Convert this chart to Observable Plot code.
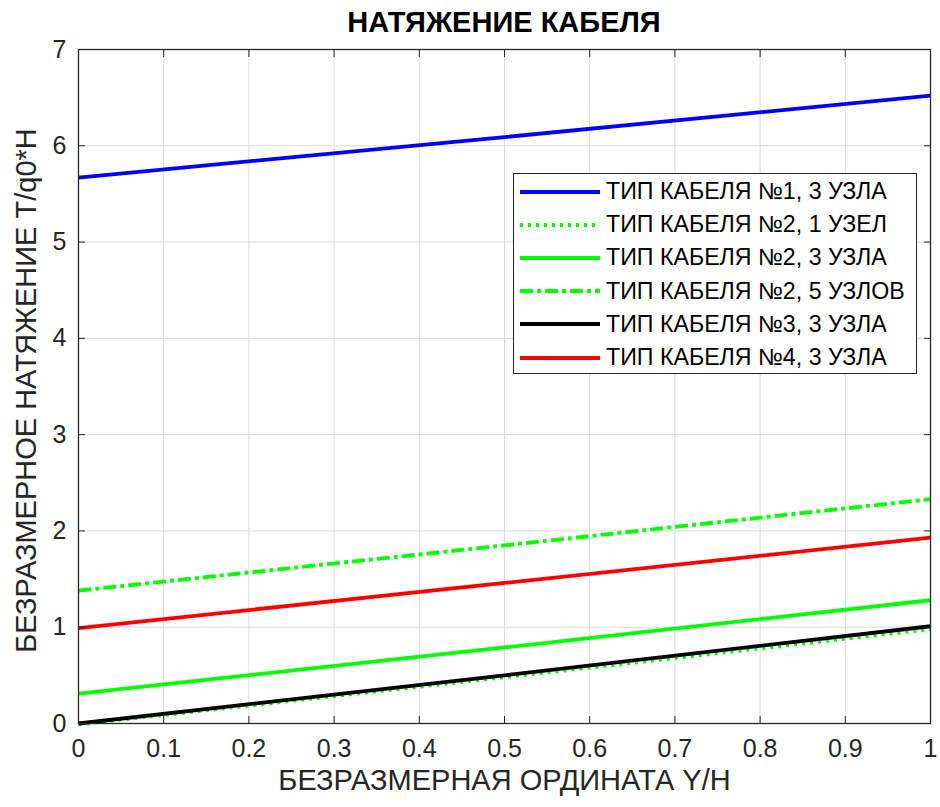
<!DOCTYPE html>
<html><head><meta charset="utf-8">
<script src="https://cdn.jsdelivr.net/npm/d3@7"></script>
<script src="https://cdn.jsdelivr.net/npm/@observablehq/plot@0.6"></script>
<style>
body{margin:0;background:#fff;font-family:"Liberation Sans",Arial,sans-serif;}
#wrap{position:relative;width:940px;height:807px;}
#title{position:absolute;left:0;top:0;width:940px;height:44px;line-height:44px;text-align:center;padding-left:68px;box-sizing:border-box;font-weight:bold;font-size:29px;color:#000;}
#chart{position:absolute;left:0;top:40px;}
#legend{position:absolute;left:513px;top:173px;width:404px;height:201px;border:1px solid #262626;background:#fff;box-sizing:border-box;}
.row{position:absolute;left:6px;height:33px;display:flex;align-items:center;font-size:23.2px;color:#000;white-space:nowrap;}
.row svg{margin-right:6px;}
</style></head>
<body>
<div id="wrap">
<div id="title">НАТЯЖЕНИЕ КАБЕЛЯ</div>
<div id="chart"></div>
<div id="legend"></div>
</div>
<script>
const titleText = "НАТЯЖЕНИЕ КАБЕЛЯ";
const xLabel = "БЕЗРАЗМЕРНАЯ ОРДИНАТА Y/H";
const yLabel = "БЕЗРАЗМЕРНОЕ НАТЯЖЕНИЕ T/q0*H";
const xTicks = [0,0.1,0.2,0.3,0.4,0.5,0.6,0.7,0.8,0.9,1];
const yTicks = [0,1,2,3,4,5,6,7];
const xVals = [0, 0.5, 1];
const seriesNames = ["ТИП КАБЕЛЯ №1, 3 УЗЛА","ТИП КАБЕЛЯ №2, 1 УЗЕЛ","ТИП КАБЕЛЯ №2, 3 УЗЛА","ТИП КАБЕЛЯ №2, 5 УЗЛОВ","ТИП КАБЕЛЯ №3, 3 УЗЛА","ТИП КАБЕЛЯ №4, 3 УЗЛА"];
const cable1_3 = [5.67, 6.09, 6.52];
const cable2_1 = [-0.01, 0.48, 0.98];
const cable2_3 = [0.31, 0.79, 1.28];
const cable2_5 = [1.38, 1.85, 2.33];
const cable3_3 = [0.0, 0.5, 1.01];
const cable4_3 = [0.99, 1.46, 1.93];
const seriesValues = [cable1_3, cable2_1, cable2_3, cable2_5, cable3_3, cable4_3];
const colors = ["#0000ff","#00ff00","#00ff00","#00ff00","#000000","#ff0000"];
const dashes = [null, "3,5", null, "13,4,4,4", null, null];
const drawOrder = [0,2,3,1,4,5];
document.getElementById("title").textContent = titleText;

const data = [];
seriesNames.forEach((n,i)=>xVals.forEach((x,j)=>data.push({series:n, idx:i, x, y:seriesValues[i][j]})));

const lineMarks = drawOrder.map(i => Plot.line(data.filter(d=>d.idx===i), {
  x:"x", y:"y", stroke: colors[i], strokeWidth: 3.8, strokeDasharray: dashes[i] || undefined, strokeLinecap: "butt"
}));

const ink = "#262626";
const blank = () => "";
const chart = Plot.plot({
  width: 940, height: 767,
  marginLeft: 78, marginRight: 10, marginTop: 9, marginBottom: 84,
  style: {fontFamily: '"Liberation Sans", Arial, sans-serif', fontSize: "25px", color: ink, background: "#fff", overflow: "visible"},
  x: {domain: [0,1], axis: null},
  y: {domain: [0,7], axis: null},
  marks: [
    Plot.gridX(xTicks, {stroke: "#dadada", strokeOpacity: 1}),
    Plot.gridY(yTicks, {stroke: "#dadada", strokeOpacity: 1}),
    ...lineMarks,
    Plot.text(xTicks, {x: d => d, frameAnchor: "bottom", dy: 33, fontSize: 25, fill: ink, text: d => String(d), textAnchor: "middle"}),
    Plot.text(yTicks, {y: d => d, frameAnchor: "left", dx: -12, fontSize: 25, fill: ink, text: d => String(d), textAnchor: "end"}),
    Plot.axisX(xTicks, {anchor: "bottom", tickSize: 7, dy: -7, stroke: ink, tickFormat: blank, label: null}),
    Plot.axisX(xTicks, {anchor: "top", tickSize: 7, dy: 7, stroke: ink, tickFormat: blank, label: null}),
    Plot.axisY(yTicks, {anchor: "left", tickSize: 7, dx: 7, stroke: ink, tickFormat: blank, label: null}),
    Plot.axisY(yTicks, {anchor: "right", tickSize: 7, dx: -7, stroke: ink, tickFormat: blank, label: null}),
    Plot.frame({stroke: ink, strokeWidth: 1.3}),
    Plot.text([xLabel], {frameAnchor: "bottom", dy: 66, fontSize: 29, fill: ink, text: d=>d, textAnchor: "middle"}),
    Plot.text([yLabel], {frameAnchor: "left", dx: -52, dy: 4, rotate: -90, fontSize: 29, fill: ink, text: d=>d, textAnchor: "middle"})
  ]
});
document.getElementById("chart").appendChild(chart);

const leg = document.getElementById("legend");
seriesNames.forEach((n,i)=>{
  const row = document.createElement("div");
  row.className = "row";
  row.style.top = (1 + i*33.2) + "px";
  const dash = dashes[i] ? `stroke-dasharray="${dashes[i]}"` : "";
  row.innerHTML = `<svg width="80" height="10"><line x1="0" y1="5" x2="80" y2="5" stroke="${colors[i]}" stroke-width="3.8" ${dash}/></svg><span>${n}</span>`;
  leg.appendChild(row);
});
</script>
</body></html>
